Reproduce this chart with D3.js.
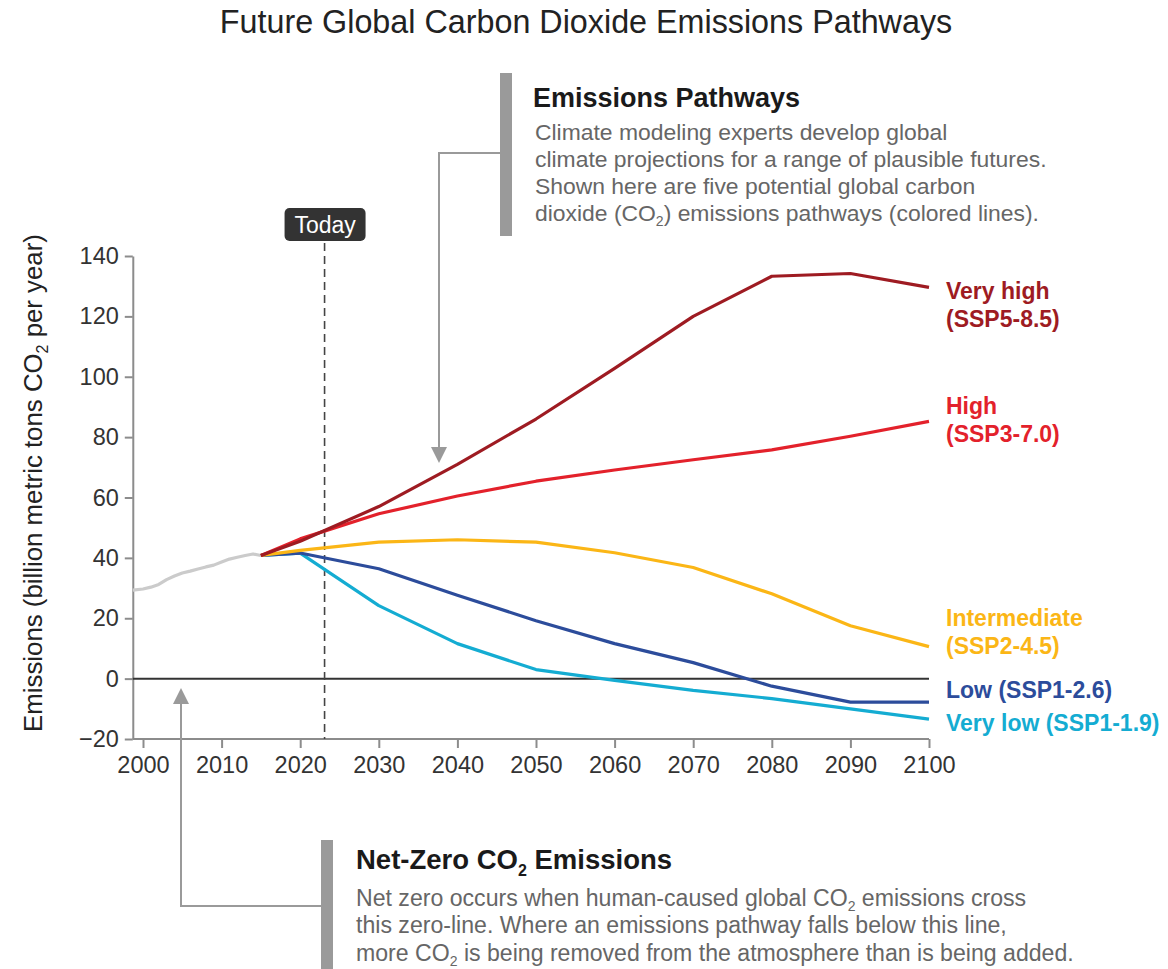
<!DOCTYPE html>
<html>
<head>
<meta charset="utf-8">
<script src="https://cdn.jsdelivr.net/npm/d3@7"></script>
<style>
  body { margin: 0; background: #fff; }
  svg { font-family: "Liberation Sans", Arial, Helvetica, sans-serif; }
</style>
</head>
<body>
<div id="chart"></div>
<script>
// historical emissions (gray)
const histYears = [1998.7, 2000, 2001, 2002, 2003, 2004, 2005, 2006, 2007, 2008, 2009, 2010, 2011, 2012, 2013, 2014, 2015];
const histValues = [29.3, 29.7, 30.3, 31.2, 32.8, 34.0, 35.0, 35.6, 36.3, 37.0, 37.6, 38.6, 39.6, 40.2, 40.8, 41.3, 40.8];

// scenario pathways
const scenYears = [2015, 2020, 2030, 2040, 2050, 2060, 2070, 2080, 2090, 2100];
const ssp585 = [40.8, 45.5, 57.0, 71.0, 86.0, 102.8, 120.0, 133.3, 134.2, 129.6];
const ssp370 = [40.8, 46.3, 54.6, 60.5, 65.4, 69.1, 72.5, 75.8, 80.3, 85.2];
const ssp245 = [40.8, 42.5, 45.2, 46.0, 45.2, 41.7, 36.8, 28.1, 17.5, 10.6];
const ssp126 = [40.8, 41.6, 36.4, 27.6, 19.2, 11.6, 5.3, -2.5, -7.8, -7.8];
const ssp119 = [40.8, 41.6, 24.2, 11.6, 3.0, -0.6, -3.9, -6.6, -10.0, -13.4];

const scenNames = ["Very high", "High", "Intermediate", "Low", "Very low"];
const scenCodes = ["SSP5-8.5", "SSP3-7.0", "SSP2-4.5", "SSP1-2.6", "SSP1-1.9"];
const scenColors = ["#9e1b22", "#e3212b", "#fbb616", "#2c4c9b", "#14acd2"];

const xTicks = [2000, 2010, 2020, 2030, 2040, 2050, 2060, 2070, 2080, 2090, 2100];
const yTicks = [-20, 0, 20, 40, 60, 80, 100, 120, 140];
const todayYear = 2023.1;

const width = 1168, height = 969;

const svg = d3.select("#chart")
  .append("svg")
  .attr("width", width)
  .attr("height", height);

const x = d3.scaleLinear().domain([2000, 2100]).range([143, 929]);
const y = d3.scaleLinear().domain([-20, 140]).range([739, 256]);
const xStart = x(1998.7);

// title
svg.append("text")
  .attr("x", 586).attr("y", 33)
  .attr("text-anchor", "middle")
  .attr("font-size", 32.3)
  .attr("fill", "#222")
  .text("Future Global Carbon Dioxide Emissions Pathways");

// y axis
const yAxis = svg.append("g")
  .attr("transform", `translate(${xStart},0)`)
  .call(d3.axisLeft(y).tickValues(yTicks).tickSize(8).tickPadding(6).tickSizeOuter(0));
yAxis.select(".domain").attr("stroke", "#8c8c8c").attr("stroke-width", 2);
yAxis.selectAll(".tick line").attr("stroke", "#8c8c8c").attr("stroke-width", 2);
yAxis.selectAll(".tick text").attr("font-size", 23.5).attr("fill", "#333")
  .attr("font-family", "Liberation Sans, Arial, sans-serif");

// x axis
const xAxis = svg.append("g")
  .attr("transform", `translate(0,${y(-20)})`)
  .call(d3.axisBottom(x).tickValues(xTicks).tickFormat(d3.format("d")).tickSize(9).tickPadding(8).tickSizeOuter(0));
xAxis.select(".domain").attr("d", `M${xStart},0H${x(2100)}`).attr("stroke", "#8c8c8c").attr("stroke-width", 2);
xAxis.selectAll(".tick line").attr("stroke", "#8c8c8c").attr("stroke-width", 2);
xAxis.selectAll(".tick text").attr("font-size", 23.5).attr("fill", "#333")
  .attr("font-family", "Liberation Sans, Arial, sans-serif");

// y label
const yLab = svg.append("text")
  .attr("transform", `translate(42,${483}) rotate(-90)`)
  .attr("text-anchor", "middle")
  .attr("font-size", 25.8)
  .attr("fill", "#222");
yLab.append("tspan").text("Emissions (billion metric tons CO");
yLab.append("tspan").attr("font-size", 16).attr("dy", 6).text("2");
yLab.append("tspan").attr("dy", -6).text(" per year)");

// zero line
svg.append("line")
  .attr("x1", xStart).attr("x2", x(2100))
  .attr("y1", y(0)).attr("y2", y(0))
  .attr("stroke", "#333").attr("stroke-width", 2);

// today marker
svg.append("line")
  .attr("x1", x(todayYear)).attr("x2", x(todayYear))
  .attr("y1", 243).attr("y2", y(-20))
  .attr("stroke", "#444").attr("stroke-width", 1.6)
  .attr("stroke-dasharray", "8,5");
svg.append("rect")
  .attr("x", x(todayYear) - 40).attr("y", 208)
  .attr("width", 81).attr("height", 33).attr("rx", 5)
  .attr("fill", "#333");
svg.append("text")
  .attr("x", x(todayYear) + 0.5).attr("y", 232.5)
  .attr("text-anchor", "middle")
  .attr("font-size", 23).attr("fill", "#fff")
  .text("Today");

// lines
const line = d3.line().x(d => x(d[0])).y(d => y(d[1]));

svg.append("path")
  .datum(histYears.map((yr, i) => [yr, histValues[i]]))
  .attr("d", line)
  .attr("fill", "none")
  .attr("stroke", "#cbcbcb")
  .attr("stroke-width", 3.2)
  .attr("stroke-linejoin", "round");

const scenValues = [ssp585, ssp370, ssp245, ssp126, ssp119];
// draw lowest first so higher pathways sit on top
[4, 3, 2, 1, 0].forEach(k => {
  svg.append("path")
    .datum(scenYears.map((yr, i) => [yr, scenValues[k][i]]))
    .attr("d", line)
    .attr("fill", "none")
    .attr("stroke", scenColors[k])
    .attr("stroke-width", 3.2)
    .attr("stroke-linejoin", "round");
});

// line labels
const labelX = 946;
const labelDy = [12, -7, -21, -4, 12];
scenValues.forEach((vals, k) => {
  const yEnd = y(vals[vals.length - 1]) + labelDy[k];
  const t = svg.append("text")
    .attr("x", labelX)
    .attr("font-size", 23)
    .attr("font-weight", "bold")
    .attr("fill", scenColors[k]);
  if (k < 3) {
    t.append("tspan").attr("x", labelX).attr("y", yEnd).text(scenNames[k]);
    t.append("tspan").attr("x", labelX).attr("y", yEnd + 28).text(`(${scenCodes[k]})`);
  } else {
    t.attr("y", yEnd).text(`${scenNames[k]} (${scenCodes[k]})`);
  }
});

// annotation: emissions pathways
const grey = "#9a9a9a";
svg.append("rect").attr("x", 500).attr("y", 73).attr("width", 12).attr("height", 163).attr("fill", grey);
svg.append("path")
  .attr("d", `M500,153H439V448`)
  .attr("fill", "none").attr("stroke", grey).attr("stroke-width", 2);
svg.append("path")
  .attr("d", `M431,447L447,447L439,463Z`)
  .attr("fill", grey);

svg.append("text")
  .attr("x", 533).attr("y", 107)
  .attr("font-size", 27).attr("font-weight", "bold").attr("fill", "#1a1a1a")
  .text("Emissions Pathways");
const bodySize = 22.9;
const topBody = ["Climate modeling experts develop global",
  "climate projections for a range of plausible futures.",
  "Shown here are five potential global carbon"];
topBody.forEach((s, i) => {
  svg.append("text")
    .attr("x", 535).attr("y", 140 + i * 27)
    .attr("font-size", bodySize).attr("fill", "#666")
    .text(s);
});
const tb4 = svg.append("text")
  .attr("x", 535).attr("y", 140 + 3 * 27)
  .attr("font-size", bodySize).attr("fill", "#666");
tb4.append("tspan").text("dioxide (CO");
tb4.append("tspan").attr("font-size", 14).attr("dy", 5).text("2");
tb4.append("tspan").attr("dy", -5).text(") emissions pathways (colored lines).");

// annotation: net zero
svg.append("rect").attr("x", 321).attr("y", 840).attr("width", 12).attr("height", 130).attr("fill", grey);
svg.append("path")
  .attr("d", `M321,906H181V703`)
  .attr("fill", "none").attr("stroke", grey).attr("stroke-width", 2);
svg.append("path")
  .attr("d", `M173,704L189,704L181,688Z`)
  .attr("fill", grey);

const nzTitle = svg.append("text")
  .attr("x", 356).attr("y", 869)
  .attr("font-size", 27.5).attr("font-weight", "bold").attr("fill", "#1a1a1a");
nzTitle.append("tspan").text("Net-Zero CO");
nzTitle.append("tspan").attr("font-size", 16).attr("dy", 7).text("2");
nzTitle.append("tspan").attr("dy", -7).text(" Emissions");

const nzSize = 23.1;
const nz1 = svg.append("text").attr("x", 356).attr("y", 906).attr("font-size", nzSize).attr("fill", "#666");
nz1.append("tspan").text("Net zero occurs when human-caused global CO");
nz1.append("tspan").attr("font-size", 14).attr("dy", 5).text("2");
nz1.append("tspan").attr("dy", -5).text(" emissions cross");
svg.append("text").attr("x", 356).attr("y", 933).attr("font-size", nzSize).attr("fill", "#666")
  .text("this zero-line. Where an emissions pathway falls below this line,");
const nz3 = svg.append("text").attr("x", 356).attr("y", 961).attr("font-size", nzSize).attr("fill", "#666");
nz3.append("tspan").text("more CO");
nz3.append("tspan").attr("font-size", 14).attr("dy", 5).text("2");
nz3.append("tspan").attr("dy", -5).text(" is being removed from the atmosphere than is being added.");
</script>
</body>
</html>
